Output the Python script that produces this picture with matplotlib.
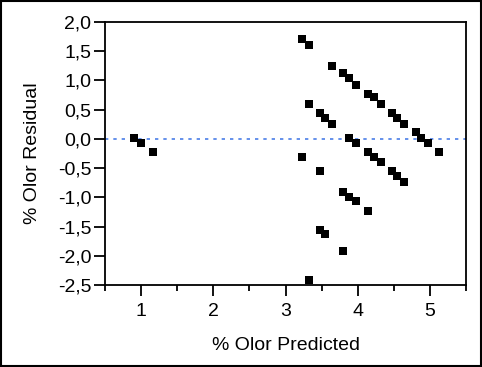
import matplotlib
matplotlib.use("Agg")
from matplotlib import pyplot as plt
from matplotlib.ticker import MultipleLocator, FuncFormatter
from matplotlib.patches import Rectangle

plt.rcParams['font.family'] = ['Liberation Sans', 'DejaVu Sans']

# valores
predicted = [0.90, 1.00, 1.17,
             3.23, 3.33, 3.64, 3.80, 3.88, 3.98, 4.14, 4.22, 4.32, 4.48, 4.54, 4.64, 4.80, 4.87, 4.97, 5.13,
             3.33, 3.48, 3.55, 3.64, 3.88, 3.98, 4.14, 4.22, 4.32, 4.48, 4.54, 4.64,
             3.23, 3.48, 3.80, 3.88, 3.98, 4.14,
             3.48, 3.55, 3.80, 3.33]
residual = [0.02, -0.07, -0.22,
            1.71, 1.61, 1.25, 1.12, 1.04, 0.92, 0.76, 0.72, 0.60, 0.44, 0.36, 0.26, 0.12, 0.02, -0.07, -0.22,
            0.60, 0.44, 0.36, 0.26, 0.02, -0.07, -0.22, -0.31, -0.39, -0.55, -0.63, -0.74,
            -0.31, -0.55, -0.91, -0.99, -1.07, -1.23,
            -1.56, -1.63, -1.91, -2.42]

fig = plt.figure(figsize=(4.82, 3.67), dpi=100)
ax = fig.add_axes([0.218, 0.2234, 0.749, 0.7166])

ax.scatter(predicted, residual, marker='s', s=36, color='black', linewidths=0, zorder=3)
ax.axhline(0, color='#4a7ee8', linestyle=(0, (2, 3)), linewidth=1.2, zorder=2)

ax.set_xlim(0.5, 5.5)
ax.set_ylim(-2.5, 2.0)
ax.xaxis.set_major_locator(MultipleLocator(1))
ax.xaxis.set_minor_locator(MultipleLocator(0.5))
ax.yaxis.set_major_locator(MultipleLocator(0.5))
ax.yaxis.set_major_formatter(FuncFormatter(lambda v, p: "{:.1f}".format(v).replace(".", ",")))

ax.tick_params(axis='both', which='major', direction='out', length=8, width=1.3, labelsize=14, pad=2)
ax.tick_params(axis='x', which='minor', direction='out', length=4, width=1.3)
ax.tick_params(axis='x', which='major', pad=5)
for s in ax.spines.values():
    s.set_linewidth(1.3)

ax.set_xlabel("% Olor Predicted", fontsize=14, labelpad=12)
ax.set_ylabel("% Olor Residual", fontsize=14, labelpad=12)

# marco exterior
fig.patches.append(Rectangle((0.002, 0.002), 0.996, 0.995, transform=fig.transFigure,
                             fill=False, edgecolor='black', linewidth=1.5))

plt.savefig("out.png", dpi=100)
